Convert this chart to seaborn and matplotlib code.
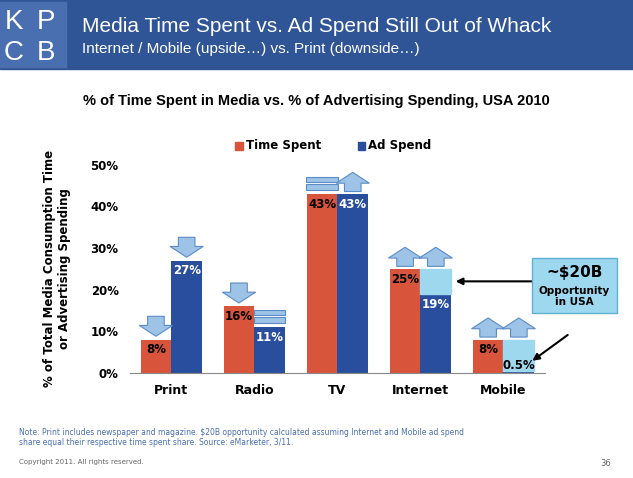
import matplotlib
matplotlib.use("Agg")
import matplotlib.pyplot as plt
import seaborn as sns
import pandas as pd
from matplotlib.patches import Rectangle, FancyArrow

categories = ["Print", "Radio", "TV", "Internet", "Mobile"]
time_spent = [8, 16, 43, 25, 8]
ad_spend = [27, 11, 43, 19, 0.5]
ad_labels = ["27%", "11%", "43%", "19%", "0.5%"]
time_labels = ["8%", "16%", "43%", "25%", "8%"]
time_arrows = ["down", "down", "eq", "up", "up"]
ad_arrows = ["down", "eq", "up", "up", "up"]

df = pd.DataFrame({
    "cat": categories * 2,
    "val": time_spent + ad_spend,
    "series": ["Time Spent"] * 5 + ["Ad Spend"] * 5,
})

fig = plt.figure(figsize=(6.33, 4.78), dpi=100)
fig.patch.set_facecolor("white")
fig.patches.append(Rectangle((0, 0.855), 1, 0.145, transform=fig.transFigure, color="#2F5597", zorder=0))
fig.patches.append(Rectangle((0.0, 0.86), 0.105, 0.135, transform=fig.transFigure, color="#4A6FB0", zorder=1))
for (t, x, y) in [("K", 0.022, 0.955), ("P", 0.072, 0.955), ("C", 0.022, 0.89), ("B", 0.072, 0.89)]:
    fig.text(x, y, t, color="white", fontsize=20, ha="center", va="center", family="Liberation Sans")
fig.text(0.13, 0.945, "Media Time Spent vs. Ad Spend Still Out of Whack", color="white", fontsize=15, va="center", family="Liberation Sans")
fig.text(0.13, 0.897, "Internet / Mobile (upside\u2026) vs. Print (downside\u2026)", color="white", fontsize=11, va="center", family="Liberation Sans")
fig.text(0.5, 0.78, "% of Time Spent in Media vs. % of Advertising Spending, USA 2010", ha="center", fontsize=10.5, fontweight="bold", family="Liberation Sans")

ax = fig.add_axes([0.205, 0.22, 0.656, 0.435])
pal = {"Time Spent": "#D8543A", "Ad Spend": "#2A4E9E"}
sns.barplot(data=df, x="cat", y="val", hue="series", palette=pal, ax=ax, width=0.74, saturation=1, legend=False)
ax.set_ylim(0, 50)
ax.set_yticks(range(0, 51, 10))
ax.set_yticklabels([f"{v}%" for v in range(0, 51, 10)], fontsize=8.5, fontweight="bold")
ax.set_xlabel("")
ax.set_ylabel("% of Total Media Consumption Time\nor Advertising Spending", fontsize=8.5, fontweight="bold", labelpad=14)
for lab in ax.get_xticklabels():
    lab.set_fontweight("bold"); lab.set_fontsize(9)
ax.tick_params(length=0, pad=8)
for s in ["top", "right", "left"]:
    ax.spines[s].set_visible(False)
ax.spines["bottom"].set_color("#888")

bw = 0.37
for i in [3, 4]:
    xc = i + bw / 2
    ax.add_patch(Rectangle((xc - bw / 2, ad_spend[i]), bw, time_spent[i] - ad_spend[i], color="#9ED8EE", zorder=1))

def draw_arrow(x, base, kind):
    c = "#9DC3E6"; ec = "#5B8CC8"
    if kind == "eq":
        for dy in (1.0, 2.8):
            ax.add_patch(Rectangle((x - 0.19, base + dy), 0.38, 1.4, fc=c, ec=ec, lw=0.8, clip_on=False))
    elif kind == "up":
        ax.add_patch(FancyArrow(x, base + 0.6, 0, 4.6, width=0.2, head_width=0.4, head_length=2.6,
                                length_includes_head=True, fc=c, ec=ec, lw=0.8, clip_on=False))
    else:
        ax.add_patch(FancyArrow(x, base + 5.6, 0, -4.8, width=0.2, head_width=0.4, head_length=2.6,
                                length_includes_head=True, fc=c, ec=ec, lw=0.8, clip_on=False))

for i in range(5):
    xt, xa = i - bw / 2, i + bw / 2
    top_ad = max(ad_spend[i], time_spent[i]) if i >= 3 else ad_spend[i]
    draw_arrow(xt, time_spent[i], time_arrows[i])
    draw_arrow(xa, top_ad, ad_arrows[i])
    ax.text(xt, time_spent[i] - 2.5, time_labels[i], ha="center", va="center", fontsize=8.5, fontweight="bold")
    ya = ad_spend[i] - 2.5 if ad_spend[i] > 5 else 1.8
    col = "white" if ad_spend[i] > 5 else "black"
    ax.text(xa, ya, ad_labels[i], ha="center", va="center", fontsize=8.5, fontweight="bold", color=col)

fig.patches.append(Rectangle((0.372, 0.687), 0.012, 0.016, transform=fig.transFigure, color=pal["Time Spent"]))
fig.text(0.388, 0.695, "Time Spent", fontsize=8.5, fontweight="bold", va="center")
fig.patches.append(Rectangle((0.565, 0.687), 0.012, 0.016, transform=fig.transFigure, color=pal["Ad Spend"]))
fig.text(0.581, 0.695, "Ad Spend", fontsize=8.5, fontweight="bold", va="center")

fig.patches.append(Rectangle((0.84, 0.345), 0.135, 0.115, transform=fig.transFigure, fc="#9ED8EE", ec="#5FB0D0"))
fig.text(0.9075, 0.43, "~$20B", ha="center", va="center", fontsize=11, fontweight="bold")
fig.text(0.9075, 0.38, "Opportunity\nin USA", ha="center", va="center", fontsize=7.5, fontweight="bold")
ax.annotate("", xy=(3 + bw + 0.02, 22), xytext=(4.7, 22), xycoords="data",
            arrowprops=dict(arrowstyle="-|>", lw=1.5, color="black"), annotation_clip=False)
ax.annotate("", xy=(4 + bw - 0.05, 2.5), xytext=(4.8, 9.5), xycoords="data",
            arrowprops=dict(arrowstyle="-|>", lw=1.5, color="black"), annotation_clip=False)

fig.text(0.03, 0.085, "Note: Print includes newspaper and magazine. $20B opportunity calculated assuming Internet and Mobile ad spend\nshare equal their respective time spent share. Source: eMarketer, 3/11.",
         fontsize=5.5, color="#4A6FB0", va="center")
fig.text(0.03, 0.03, "Copyright 2011. All rights reserved.", fontsize=5, color="#666")
fig.text(0.965, 0.025, "36", fontsize=6, color="#666", ha="right")
fig.savefig("out.png", dpi=100)
